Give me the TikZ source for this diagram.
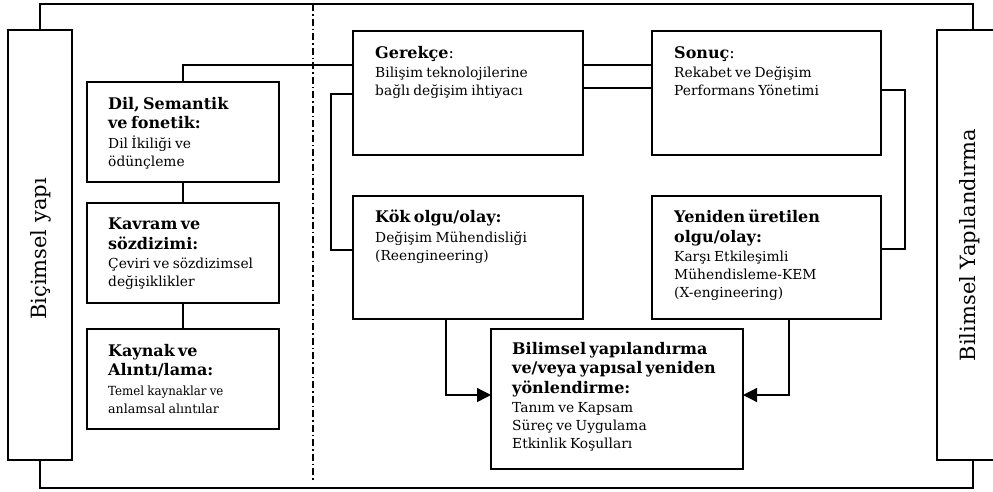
\documentclass[tikz,border=0pt]{standalone}
\usepackage{fontspec}
\setmainfont{DejaVu Serif}
\usetikzlibrary{positioning,arrows.meta}

\newcommand{\boxhead}{\fontsize{16}{19.5}\selectfont\bfseries}
\newcommand{\boxbody}{\vspace{1.5pt}\fontsize{13.8}{18}\selectfont}
\newcommand{\sidefont}{\fontsize{21}{24}\selectfont}

\begin{document}
\begin{tikzpicture}[
x=1pt, y=-1pt,
mybox/.style={
  draw,
  line width=1.6pt,
  inner sep=0pt,
  outer sep=0pt,
  anchor=north west},
mytxt/.style={
  inner sep=0pt,
  text width=235pt,
  align=left},
link/.style={line width=1.3pt},
arr/.style={line width=1.3pt, -{Triangle[length=14pt,width=14pt]}}
]
\useasboundingbox (0,0) rectangle (993,491);
% side boxes
\node[mybox, minimum width=64pt, minimum height=430pt] (bic) at (8,30) {};
\node[mybox, minimum width=72pt, minimum height=430pt] (bil) at (937,30) {};
\node[rotate=90, font=\sidefont] (bicT) at ([xshift=1pt,yshift=-4pt]bic.center) {Biçimsel yapı};
\node[rotate=90, font=\sidefont] (bilT) at ([xshift=-3pt]bil.center) {Bilimsel Yapılandırma};
% left column
\node[mybox, minimum width=192pt, minimum height=100pt] (dil) at (87,82) {};
\node[mybox, minimum width=192pt, minimum height=100pt, below=21pt of dil] (kav) {};
\node[mybox, minimum width=192pt, minimum height=100pt, below=26pt of kav] (kay) {};
% right part
\node[mybox, minimum width=230pt, minimum height=124pt] (ger) at (353,31) {};
\node[mybox, minimum width=229pt, minimum height=124pt, right=69pt of ger] (son) {};
\node[mybox, minimum width=230pt, minimum height=123pt, below=41pt of ger] (kok) {};
\node[mybox, minimum width=229pt, minimum height=123pt, right=69pt of kok] (yen) {};
\node[mybox, minimum width=252pt, minimum height=140pt] (yon) at (491,329) {};
% texts
\node[mytxt, below right=15pt and 21pt of dil.north west] (dilT)
  {{\boxhead Dil, Semantik\\ve fonetik:\par}{\boxbody Dil İkiliği ve\\ödünçleme\par}};
\node[mytxt, below right=15pt and 21pt of kav.north west] (kavT)
  {{\boxhead Kavram ve\\sözdizimi:\par}{\boxbody Çeviri ve sözdizimsel\\değişiklikler\par}};
\node[mytxt, below right=15pt and 21pt of kay.north west] (kayT)
  {{\boxhead Kaynak ve\\Alıntı/lama:\par}{\boxbody\fontsize{12.6}{18}\selectfont
   \scalebox{0.94}[1]{Temel kaynaklar ve}\\anlamsal alıntılar\par}};
\node[mytxt, below right=15pt and 22pt of ger.north west] (gerT)
  {{\boxhead Gerekçe\mdseries:\par}{\boxbody Bilişim teknolojilerine\\bağlı değişim ihtiyacı\par}};
\node[mytxt, below right=15pt and 22pt of son.north west] (sonT)
  {{\boxhead Sonuç\mdseries:\par}{\boxbody Rekabet ve Değişim\\Performans Yönetimi\par}};
\node[mytxt, below right=14pt and 22pt of kok.north west] (kokT)
  {{\boxhead Kök olgu/olay:\par}{\boxbody Değişim Mühendisliği\\(Reengineering)\par}};
\node[mytxt, below right=14pt and 22pt of yen.north west] (yenT)
  {{\boxhead Yeniden üretilen\\olgu/olay:\par}{\boxbody Karşı Etkileşimli\\Mühendisleme-KEM\\(X-engineering)\par}};
\node[mytxt, below right=13pt and 21pt of yon.north west] (yonT)
  {{\boxhead Bilimsel yapılandırma\\ve/veya yapısal yeniden\\yönlendirme:\par}{\boxbody Tanım ve Kapsam\\Süreç ve Uygulama\\Etkinlik Koşulları\par}};
% frame and divider
\draw[link] (bic.north) -- ++(0,-26) -| (bil.north);
\draw[link] (bic.south) -- ++(0,28) -| (bil.south);
\draw[line width=1.3pt, dash pattern=on 7pt off 3pt on 1.5pt off 3pt] (313,4) -- (313,482);
% connectors
\draw[link] (dil.north) |- ([yshift=-34pt]ger.north west);
\draw[link] (dil.south) -- (kav.north);
\draw[link] (kav.south) -- (kay.north);
\draw[link] ([yshift=-34pt]ger.north east) -- ([yshift=-34pt]son.north west);
\draw[link] ([yshift=-57pt]ger.north east) -- ([yshift=-57pt]son.north west);
\draw[link] ([yshift=-63pt]ger.north west) -- ++(-22,0) |- ([yshift=-54pt]kok.north west);
\draw[link] ([yshift=-59pt]son.north east) -- ++(24,0) |- ([yshift=-53pt]yen.north east);
\draw[arr] ([xshift=93pt]kok.south west) |- ([yshift=-66pt]yon.north west);
\draw[arr] ([xshift=137pt]yen.south west) |- ([yshift=-66pt]yon.north east);
\end{tikzpicture}
\end{document}
